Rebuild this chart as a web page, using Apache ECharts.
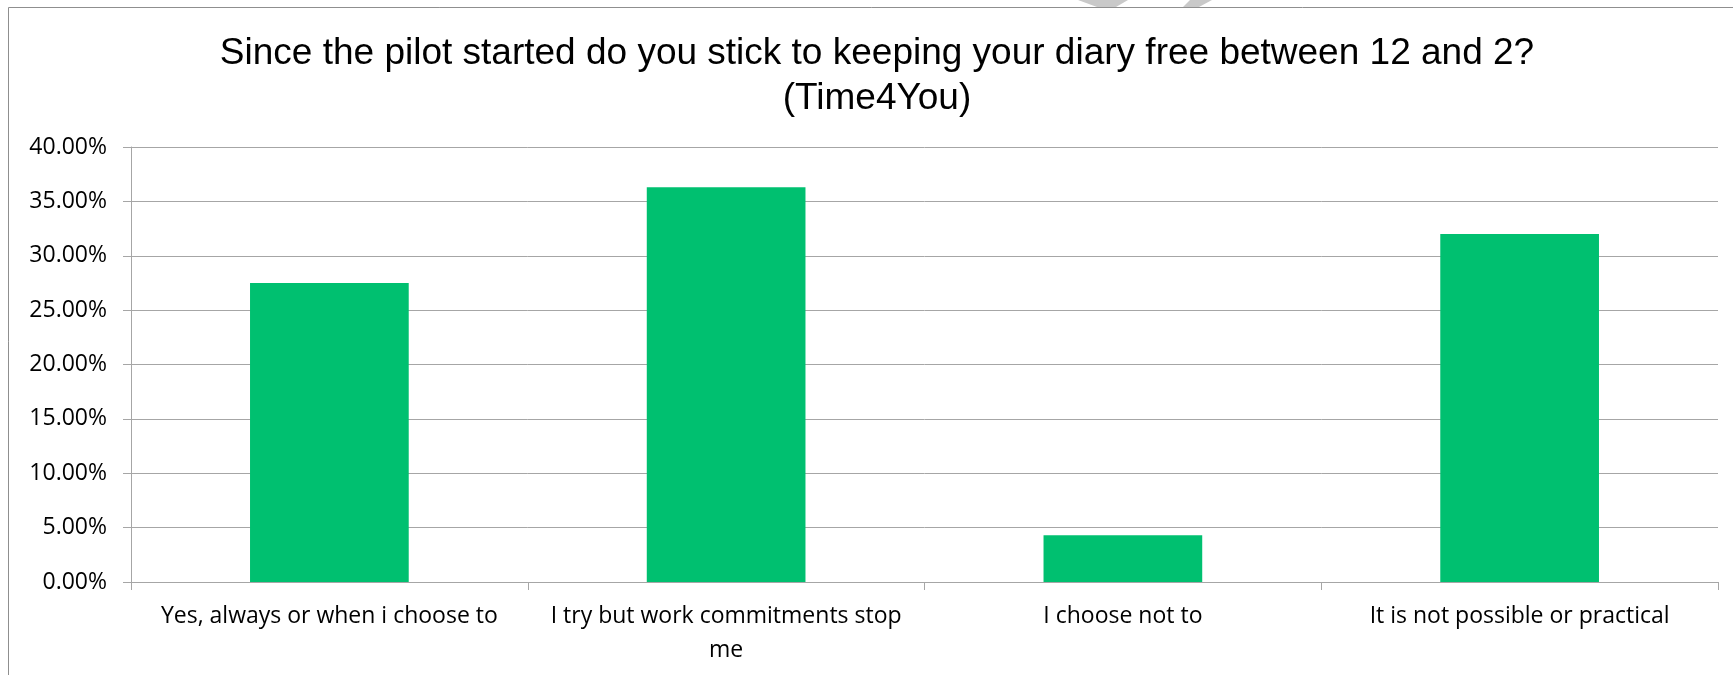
<!DOCTYPE html>
<html>
<head>
<meta charset="utf-8">
<script src="https://cdn.jsdelivr.net/npm/echarts@6/dist/echarts.min.js"></script>
<style>
  html, body { margin: 0; padding: 0; background: #fff; }
  #chart { width: 1733px; height: 675px; }
</style>
</head>
<body>
<div id="chart"></div>
<script>
// Survey answers and their share of respondents (percent)
const categories = [
  'Yes, always or when i choose to',
  'I try but work commitments stop\nme',
  'I choose not to',
  'It is not possible or practical'
];
const shares = [27.5, 36.3, 4.3, 32.0];
const yTicks = { min: 0, max: 40, interval: 5 };
const titleText = 'Since the pilot started do you stick to keeping your diary free between 12 and 2?\n(Time4You)';

const chart = echarts.init(document.getElementById('chart'));
const axisGrey = '#a6a6a6';

chart.setOption({
  animation: false,
  backgroundColor: '#ffffff',
  title: {
    text: titleText,
    left: 872,
    top: 26,
    textAlign: 'center',
    textStyle: {
      fontFamily: 'Liberation Sans',
      fontSize: 37,
      fontWeight: 'normal',
      color: '#000',
      lineHeight: 45
    }
  },
  graphic: [
    {
      type: 'rect',
      shape: { x: 8.5, y: 7.5, width: 1760, height: 720 },
      style: { fill: 'none', stroke: '#8f8f8f', lineWidth: 1 },
      silent: true
    },
    {
      type: 'polygon',
      shape: { points: [[1078, 0], [1128, 0], [1116, 7], [1097, 7]] },
      style: { fill: '#c9c9c9' },
      silent: true
    },
    {
      type: 'polygon',
      shape: { points: [[1190, 0], [1212, 0], [1199, 7], [1183, 7]] },
      style: { fill: '#c9c9c9' },
      silent: true
    }
  ],
  grid: {
    left: 131,
    right: 15,
    top: 147,
    bottom: 93,
    containLabel: false
  },
  xAxis: {
    type: 'category',
    data: categories,
    axisLine: { show: true, lineStyle: { color: axisGrey, width: 1 } },
    axisTick: { show: true, alignWithLabel: false, length: 8, lineStyle: { color: axisGrey } },
    axisLabel: {
      interval: 0,
      margin: 17,
      fontFamily: 'Open Sans',
      fontSize: 23,
      color: '#000',
      lineHeight: 34
    },
    splitLine: { show: false }
  },
  yAxis: {
    type: 'value',
    min: yTicks.min,
    max: yTicks.max,
    interval: yTicks.interval,
    axisLine: { show: true, lineStyle: { color: axisGrey, width: 1 } },
    axisTick: { show: true, length: 8, lineStyle: { color: axisGrey } },
    axisLabel: {
      margin: 24,
      fontFamily: 'Open Sans',
      fontSize: 23,
      color: '#000',
      formatter: v => v.toFixed(2) + '%'
    },
    splitLine: { show: true, lineStyle: { color: axisGrey, width: 1 } }
  },
  series: [{
    type: 'bar',
    data: shares,
    barWidth: '40%',
    itemStyle: { color: '#00c070' },
    silent: true
  }]
});
</script>
</body>
</html>
